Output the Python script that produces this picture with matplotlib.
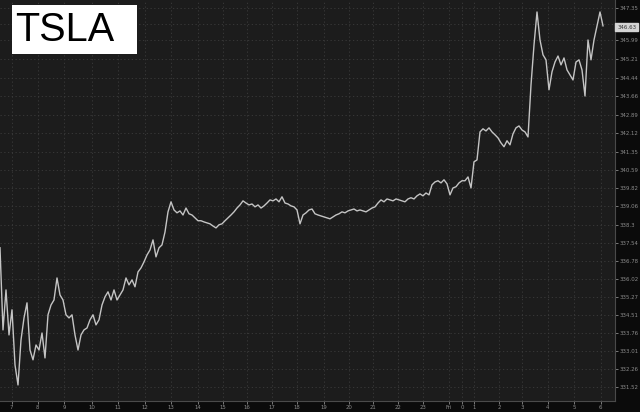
import matplotlib
matplotlib.use("Agg")
import matplotlib.pyplot as plt
import numpy as np

# ---- data ----
price = [
    337.33, 333.90, 335.57, 333.69, 334.74, 332.44, 331.60, 333.48, 334.40, 335.03,
    333.06, 332.65, 333.27, 333.06, 333.77, 332.73, 334.53, 334.94, 335.15, 336.07,
    335.36, 335.15, 334.53, 334.40, 334.53, 333.69, 333.06, 333.69, 333.90, 333.98,
    334.32, 334.53, 334.11, 334.32, 334.94, 335.28, 335.49, 335.15, 335.57, 335.15,
    335.36, 335.57, 336.07, 335.78, 335.99, 335.70, 336.32, 336.49, 336.74, 337.03,
    337.24, 337.66, 336.95, 337.33, 337.45, 337.99, 338.83, 339.25, 338.91, 338.79,
    338.87, 338.70, 338.99, 338.75, 338.70, 338.58, 338.46, 338.46, 338.41, 338.37,
    338.33, 338.24, 338.16, 338.29, 338.33, 338.46, 338.58, 338.70, 338.83, 338.99,
    339.12, 339.29, 339.20, 339.12, 339.16, 339.04, 339.12, 338.99, 339.08, 339.20,
    339.33, 339.29, 339.37, 339.25, 339.46, 339.20, 339.16, 339.08, 339.04, 338.91,
    338.33, 338.70, 338.79, 338.91, 338.95, 338.75, 338.70, 338.66, 338.62, 338.58,
    338.54, 338.62, 338.70, 338.75, 338.83, 338.79, 338.87, 338.91, 338.95, 338.87,
    338.91, 338.87, 338.83, 338.91, 338.99, 339.04, 339.20, 339.33, 339.25, 339.37,
    339.33, 339.29, 339.37, 339.33, 339.29, 339.25, 339.37, 339.42, 339.37, 339.50,
    339.58, 339.50, 339.62, 339.54, 339.96, 340.08, 340.13, 340.04, 340.17, 340.00,
    339.54, 339.83, 339.88, 340.04, 340.13, 340.13, 340.29, 339.83, 340.92, 341.00,
    342.17, 342.30, 342.21, 342.34, 342.17, 342.05, 341.92, 341.71, 341.55, 341.80,
    341.63, 342.09, 342.34, 342.42, 342.25, 342.17, 341.96, 344.13, 345.80, 347.18,
    346.01, 345.39, 345.18, 343.93, 344.68, 345.09, 345.34, 344.97, 345.26, 344.76,
    344.55, 344.34, 345.09, 345.18, 344.76, 343.67, 346.01, 345.18, 346.01, 346.60,
    347.18, 346.60,
]
x_tick_labels = ["7", "8", "9", "10", "11", "12", "13", "14", "15", "16", "17", "18",
                 "19", "20", "21", "22", "23", "Fri", "0", "1", "2", "3", "4", "5", "6"]
x_tick_pos = [3.9, 12.6, 21.3, 30.7, 39.4, 48.2, 57.1, 65.9, 74.4, 82.2, 90.6, 98.9,
              108.0, 116.4, 124.2, 132.8, 140.9, 149.7, 154.0, 157.9, 166.3, 174.0,
              182.6, 191.3, 200.2]
y_ticks = [347.35, 346.67, 345.99, 345.21, 344.44, 343.66, 342.89, 342.12, 341.35,
           340.59, 339.82, 339.06, 338.3, 337.54, 336.78, 336.02, 335.27, 334.51,
           333.76, 333.01, 332.26, 331.52]
y_tick_labels = ["347.35", "", "345.99", "345.21", "344.44", "343.66", "342.89",
                 "342.12", "341.35", "340.59", "339.82", "339.06", "338.3", "337.54",
                 "336.78", "336.02", "335.27", "334.51", "333.76", "333.01", "332.26",
                 "331.52"]
last_label = "346.63"
ticker = "TSLA"

# ---- figure ----
fig = plt.figure(figsize=(6.4, 4.12), dpi=100, facecolor="#0b0b0b")
ax = fig.add_axes([0, 11 / 412, 615 / 640, 401 / 412])
ax.set_facecolor("#1c1c1c")

x = np.arange(len(price))
ax.plot(x, price, color="#c4c4c4", lw=1.0)

ax.set_xlim(0, 205)
ax.set_ylim(330.93, 347.68)

ax.yaxis.tick_right()
ax.set_yticks(y_ticks)
ax.set_yticklabels(y_tick_labels)
ax.set_xticks(x_tick_pos)
ax.set_xticklabels(x_tick_labels)
ax.tick_params(axis="both", colors="#8c8c8c", labelsize=3.9, length=2, width=0.6,
               pad=1.0)

ax.grid(True, color="#3c3c3c", lw=0.6, ls=(0, (1.5, 3)))
for s in ["top", "left"]:
    ax.spines[s].set_visible(False)
for s in ["right", "bottom"]:
    ax.spines[s].set_color("#4a4a4a")
    ax.spines[s].set_linewidth(0.8)

# ticker box
fig.patches.append(plt.Rectangle((12 / 640, 1 - 54 / 412), 125 / 640, 49 / 412,
                                 transform=fig.transFigure, fc="white", ec="none",
                                 zorder=0.5))
fig.text(15 / 640, 1 - 30 / 412, ticker, fontsize=28.5, family="Liberation Sans",
         color="black", va="center", ha="left", zorder=2)

# last price tag
ax.annotate(last_label, xy=(1.0, 346.55), xycoords=("axes fraction", "data"),
            xytext=(1.5, 0), textcoords="offset points", fontsize=3.9,
            color="#333333", va="center", ha="left",
            bbox=dict(boxstyle="square,pad=0.3", fc="#d4d4d4", ec="#d4d4d4"),
            annotation_clip=False)

fig.savefig("out.png", dpi=100, facecolor=fig.get_facecolor())
